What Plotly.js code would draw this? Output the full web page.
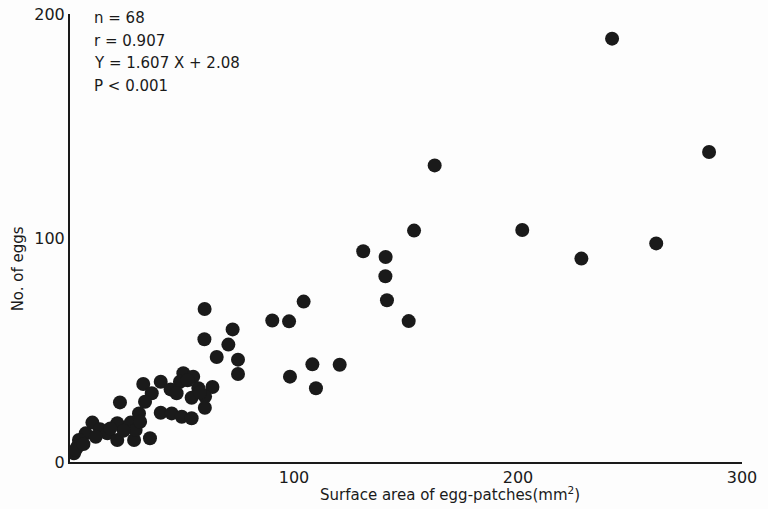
<!DOCTYPE html>
<html>
<head>
<meta charset="utf-8">
<script src="https://cdn.plot.ly/plotly-3.0.1.min.js"></script>
<style>html,body{margin:0;padding:0;background:#fdfdfd;}</style>
</head>
<body>
<div id="chart" style="width:768px;height:509px;"></div>
<script>
// Surface area of egg-patches (mm²)
const areaX = [
  242, 285.3, 162.8, 153.6, 201.9, 228.3, 261.7, 130.9, 140.9, 140.8,
  141.5, 151.2, 104.3, 90.3, 97.8, 108.2, 120.4, 98.2, 109.8,
  60.1, 60, 72.6, 70.7, 65.5, 75, 75, 63.6, 60.3, 60.2,
  50.6, 55, 40.5, 32.7, 49.1, 44.9, 47.6, 57.3, 54.3, 36.5,
  33.5, 40.5, 45.4, 49.9, 54.3, 35.7, 22.3, 30.8, 10, 21.1,
  27.1, 13.4, 16.7, 7, 21.1, 28.6, 29.3, 11.5, 4, 3.3,
  1.8, 31.3, 52.5, 24, 18, 2.5, 6, 58
];
// Number of eggs
const eggsY = [
  189, 138.4, 132.4, 103.3, 103.6, 90.8, 97.6, 94.1, 91.5, 82.9,
  72.2, 62.9, 71.6, 63.2, 62.8, 43.6, 43.4, 38.1, 32.9,
  68.3, 54.8, 59.2, 52.4, 46.9, 45.7, 39.3, 33.5, 29.2, 24.2,
  39.6, 38.1, 35.8, 34.8, 35.8, 32.4, 30.7, 32.9, 28.7, 30.7,
  26.9, 22, 21.7, 20.2, 19.5, 10.6, 26.6, 21.7, 17.6, 17.3,
  17.6, 14.6, 12.8, 12.8, 9.8, 9.8, 14.3, 11.3, 9.8, 6.8,
  3.9, 18, 36.5, 14, 15, 5.5, 8, 31
];
const xTicks = [100, 200, 300];
const yTicks = [0, 100, 200];
const statsLines = ["n = 68", "r = 0.907", "Y = 1.607 X + 2.08", "P < 0.001"];

const fontFam = "DejaVu Sans, Lato, sans-serif";
const ink = "#1a1a1a";

const trace = {
  x: areaX, y: eggsY, type: "scatter", mode: "markers",
  marker: {size: 14, color: ink, line: {width: 0}},
  hoverinfo: "x+y", showlegend: false
};

const annotations = [
  {text: "Surface area of egg-patches(mm<sup>2</sup>)", xref: "paper", yref: "paper",
   x: 0.565, y: 0, yshift: -32, xanchor: "center", yanchor: "middle", showarrow: false,
   font: {family: fontFam, size: 15, color: ink}},
  {text: "No. of eggs", xref: "paper", yref: "paper", x: 0, xshift: -52, y: 0.43,
   textangle: -90, xanchor: "center", yanchor: "middle", showarrow: false,
   font: {family: fontFam, size: 15, color: ink}}
];
statsLines.forEach((t, i) => {
  annotations.push({text: t, xref: "paper", yref: "paper", x: 0, xshift: 22, y: 1,
    yshift: -4 - i * 22.5, xanchor: "left", yanchor: "middle", showarrow: false,
    font: {family: fontFam, size: 15, color: ink}});
});

const layout = {
  width: 768, height: 509,
  margin: {l: 70, r: 26, t: 14, b: 47},
  paper_bgcolor: "#fdfdfd", plot_bgcolor: "#fdfdfd",
  font: {family: fontFam, size: 16, color: ink},
  xaxis: {range: [0, 300], tickvals: xTicks, ticktext: xTicks.map(String),
    showgrid: false, zeroline: false, showline: true, linecolor: ink, linewidth: 2,
    ticks: "", tickfont: {family: fontFam, size: 16, color: ink}, fixedrange: true},
  yaxis: {range: [0, 200], tickvals: yTicks, ticktext: yTicks.map(String),
    showgrid: false, zeroline: false, showline: true, linecolor: ink, linewidth: 2,
    ticks: "", tickfont: {family: fontFam, size: 16, color: ink}, fixedrange: true},
  annotations: annotations
};

Plotly.newPlot("chart", [trace], layout, {displayModeBar: false, staticPlot: true});
</script>
</body>
</html>
